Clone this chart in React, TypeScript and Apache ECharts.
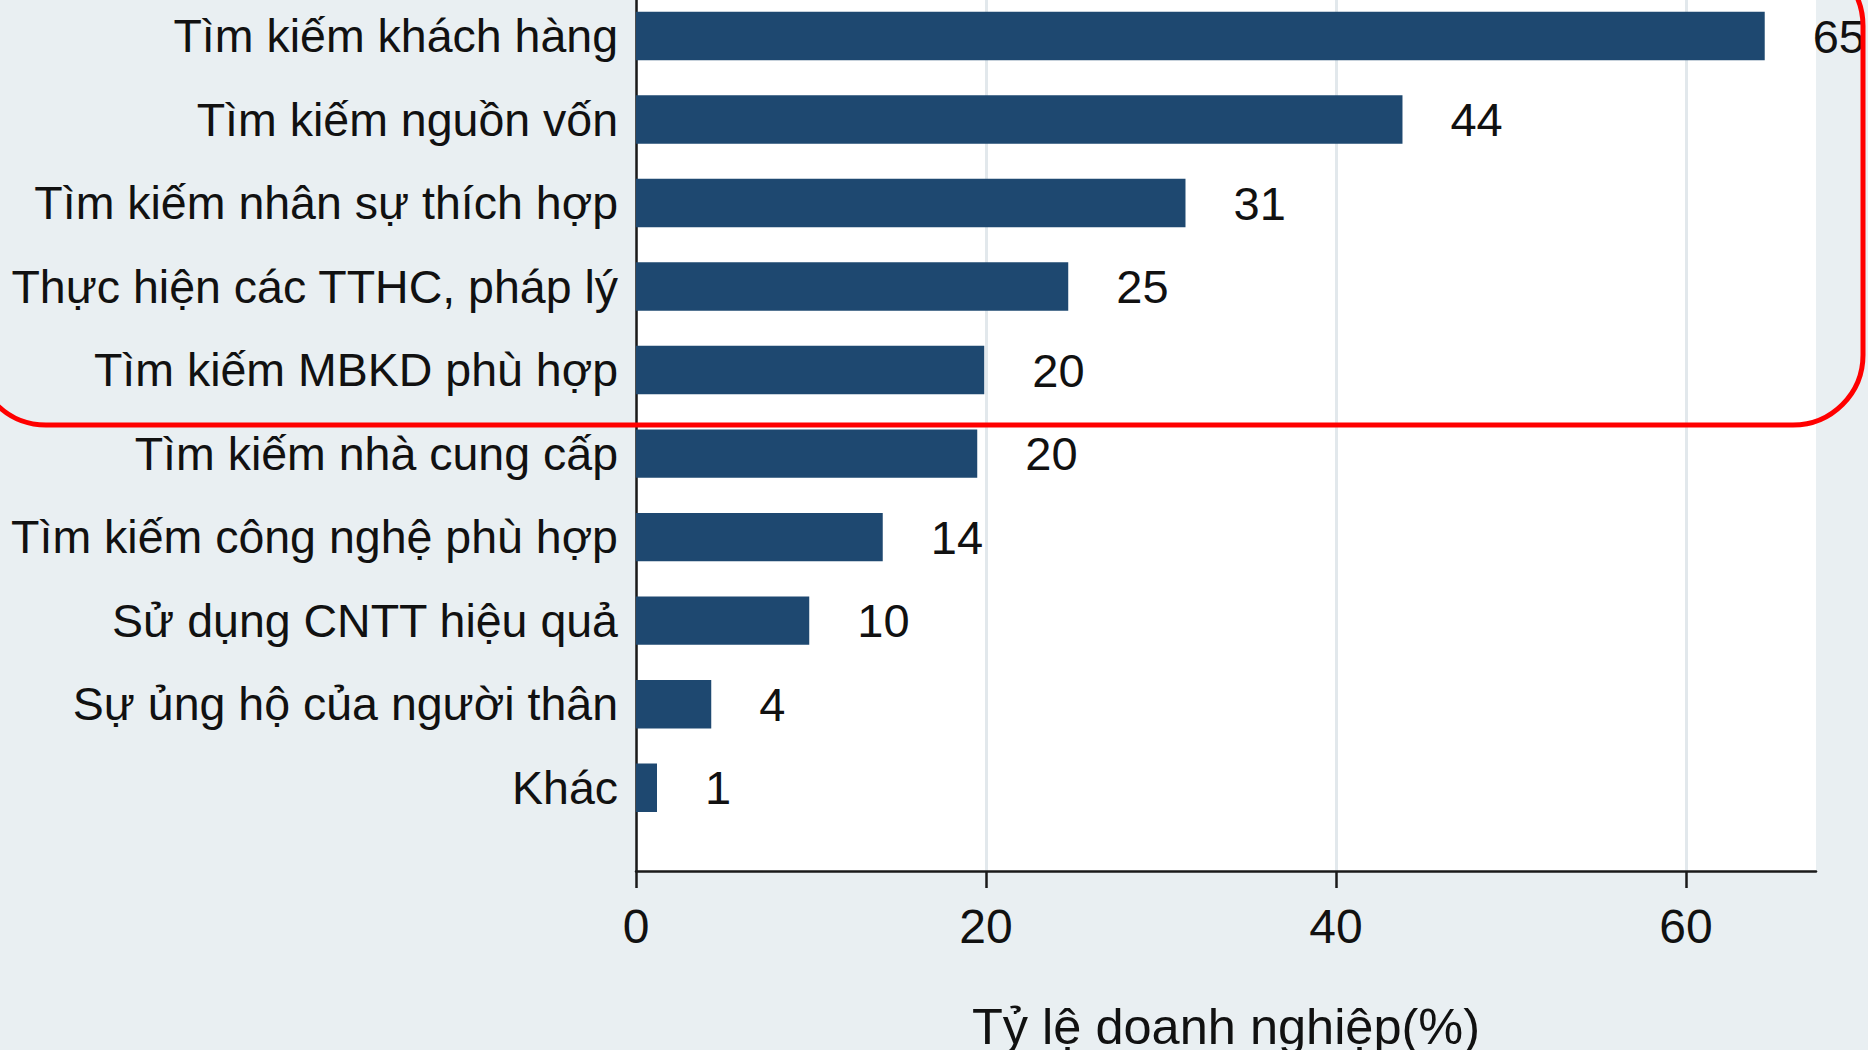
import React, { useEffect, useRef } from "react";
import * as echarts from "echarts";

const categories: string[] = [
  "Tìm kiếm khách hàng",
  "Tìm kiếm nguồn vốn",
  "Tìm kiếm nhân sự thích hợp",
  "Thực hiện các TTHC, pháp lý",
  "Tìm kiếm MBKD phù hợp",
  "Tìm kiếm nhà cung cấp",
  "Tìm kiếm công nghệ phù hợp",
  "Sử dụng CNTT hiệu quả",
  "Sự ủng hộ của người thân",
  "Khác",
];

const values: number[] = [64.5, 43.8, 31.4, 24.7, 19.9, 19.5, 14.1, 9.9, 4.3, 1.2];

const xTicks: number[] = [0, 20, 40, 60];
const xMax = 67.43;
const xTitle = "Tỷ lệ doanh nghiệp(%)";

const FONT = "'Liberation Sans', Arial, sans-serif";
const BAR_COLOR = "#1e4870";
const BG = "#e9eff2";

export default function App() {
  const ref = useRef<HTMLDivElement>(null);

  useEffect(() => {
    if (!ref.current) return;
    const chart = echarts.init(ref.current, undefined, { renderer: "svg" });
    chart.setOption({
      animation: false,
      backgroundColor: BG,
      grid: [
        {
          left: 636,
          width: 1180,
          top: -5.75,
          height: 835.2,
          containLabel: false,
          outerBoundsMode: "none",
        },
        {
          left: 636,
          width: 1180,
          top: -10,
          height: 881,
          show: true,
          backgroundColor: "#ffffff",
          borderWidth: 0,
          containLabel: false,
          outerBoundsMode: "none",
        },
      ],
      xAxis: [
        {
          gridIndex: 0,
          type: "value",
          min: 0,
          max: xMax,
          show: false,
        },
        {
          gridIndex: 1,
          type: "value",
          min: 0,
          max: xMax,
          axisLine: { show: true, onZero: false, lineStyle: { color: "#1a1a1a", width: 2.5 } },
          axisTick: {
            show: true,
            length: 17,
            customValues: xTicks,
            lineStyle: { color: "#1a1a1a", width: 2.5 },
          },
          axisLabel: {
            customValues: xTicks,
            fontSize: 48,
            fontFamily: FONT,
            color: "#111",
            margin: 31,
          },
          splitLine: { show: true, lineStyle: { color: "#e2e8ec", width: 3 } },
          name: xTitle,
          nameLocation: "middle",
          nameGap: 130,
          nameTextStyle: { fontSize: 50.5, fontFamily: FONT, color: "#111" },
        },
      ],
      yAxis: [
        {
          gridIndex: 0,
          type: "category",
          data: categories,
          inverse: true,
          axisLine: { show: false },
          axisTick: { show: false },
          axisLabel: { fontSize: 46.5, fontFamily: FONT, color: "#111", margin: 18 },
        },
        {
          gridIndex: 1,
          type: "value",
          min: 0,
          max: 1,
          axisLine: { show: true, onZero: false, lineStyle: { color: "#1a1a1a", width: 2.5 } },
          axisTick: { show: false },
          axisLabel: { show: false },
          splitLine: { show: false },
        },
      ],
      series: [
        {
          type: "bar",
          xAxisIndex: 0,
          yAxisIndex: 0,
          data: values,
          barCategoryGap: "42%",
          itemStyle: { color: BAR_COLOR },
          z: 5,
          label: {
            show: true,
            position: "right",
            distance: 48,
            fontSize: 47,
            fontFamily: FONT,
            color: "#111",
            formatter: (p: any) => String(Math.round(p.value)),
          },
        },
      ],
      graphic: [
        {
          type: "rect",
          z: 100,
          shape: { x: -24, y: -44, width: 1887, height: 469, r: 70 },
          style: { fill: "none", stroke: "#ff0000", lineWidth: 5 },
        },
      ],
    });
    return () => chart.dispose();
  }, []);

  return (
    <div
      ref={ref}
      style={{ position: "absolute", left: 0, top: 0, width: 1868, height: 1050 }}
    />
  );
}
